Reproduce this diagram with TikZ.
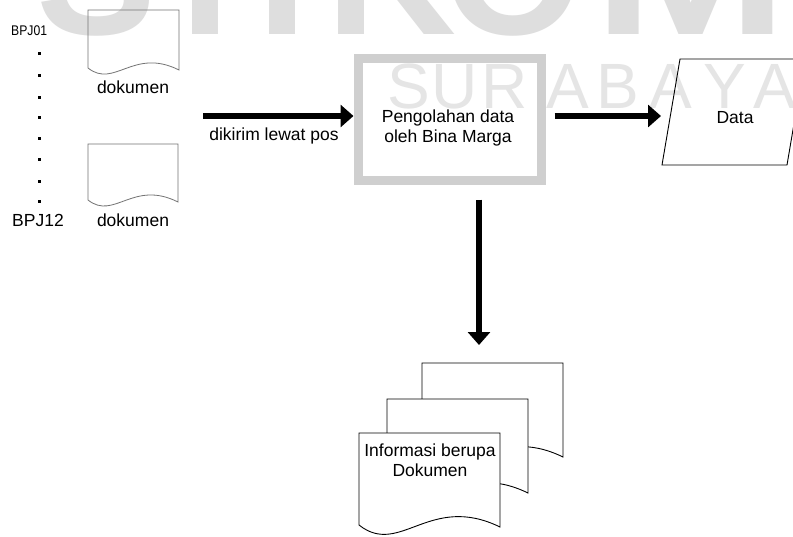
\documentclass[tikz,border=0pt]{standalone}
\usepackage{fontspec}
\setmainfont{Liberation Sans}
\usetikzlibrary{arrows.meta,calc}
\newcommand{\drawdoc}[2]{%
  \path[#2] let \p1=(#1.north west), \p2=(#1.south east), \p3=($(#1.south east)-(#1.south west)$) in
   (\x1,\y1) -- (\x2,\y1) -- (\x2,\y2-2pt)
   .. controls (\x1+0.5*\x3,\y2+0.23*\x3) and (\x1+0.29*\x3,\y2-0.23*\x3) .. (\x1,\y2) -- cycle;}
\begin{document}
\begin{tikzpicture}[x=1pt,y=-1pt,
  txt/.style={font=\fontsize{17.5}{19.5}\selectfont, inner sep=0pt, align=center, anchor=base},
  bigarrow/.style={line width=6.5pt, -{Triangle[length=13pt,width=22pt]}},
  docbox/.style={inner sep=0pt, outer sep=0pt},
  multidoc/.style={draw=black, line width=0.9pt, fill=white},
  srcdoc/.style={draw=black!55, line width=0.8pt},
  wmsmall/.style={text=black!10, inner sep=0pt, anchor=base, font=\fontsize{64}{64}\selectfont},
  wmbig/.style={text=black!13, inner sep=0pt, anchor=base, font=\fontsize{180}{180}\selectfont\bfseries},
]
\useasboundingbox (0,0) rectangle (793,536);
\clip (0,0) rectangle (793,536);
\fill[white] (0,0) rectangle (793,536);

% watermark
\node[wmbig] (wS) at (97,34) {S};
\node[wmbig] (wT) at (205,34) {T};
\node[wmbig] (wI) at (283,34) {I};
\node[wmbig] (wK) at (391,34) {K};
\node[wmbig] (wO) at (514,34) {O};
\node[wmbig] (wM) at (691,34) {\scalebox{1.3}[1]{M}};
\node[wmsmall] (s1) at (409,108) {S};
\node[wmsmall] (s2) at (455,108) {U};
\node[wmsmall] (s3) at (505,108) {R};
\node[wmsmall] (s4) at (568,108) {A};
\node[wmsmall] (s5) at (618,108) {B};
\node[wmsmall] (s6) at (671,108) {A};
\node[wmsmall] (s7) at (725,108) {Y};
\node[wmsmall] (s8) at (775,108) {A};

% source documents
\node[docbox, minimum width=91pt, minimum height=58pt] (doc1) at (133.5,39) {};
\drawdoc{doc1}{srcdoc}
\node[docbox, minimum width=90pt, minimum height=56pt] (doc2) at (133,172) {};
\drawdoc{doc2}{srcdoc}
\node[txt] (lab1) at (133,93) {dokumen};
\node[txt] (lab2) at (133,226) {dokumen};
\node[txt, anchor=base west, font=\fontsize{14}{16}\selectfont] (bpj01) at (11,35.5) {\scalebox{0.87}[1]{BPJ01}};
\node[txt, anchor=base west] (bpj12) at (12,226) {BPJ12};
\foreach \yy in {53,75,97,117,138,159,181,201}
  \fill[black] (37.5,\yy-1.5) rectangle +(3,3);

% process
\node[draw=black!19, line width=9pt, minimum width=183pt, minimum height=122pt, inner sep=0pt] (proc) at (449.5,119.5) {};
\node[txt] (proctext) at (448,142) {Pengolahan data\\oleh Bina Marga};

% data
\coordinate (d1) at (662,165);
\coordinate (d2) at (680,59);
\coordinate (d3) at (805,59);
\coordinate (d4) at (787,165);
\draw[black, line width=0.9pt] (d1) -- (d2) -- (d3) -- (d4) -- cycle;
\node[txt] (data) at (735,123) {Data};

% output documents
\node[docbox, minimum width=141pt, minimum height=92pt] (back) at (492.5,409) {};
\node[docbox, minimum width=141pt, minimum height=92pt] (mid) at (457.5,445) {};
\node[docbox, minimum width=141pt, minimum height=92pt] (front) at (429.5,479) {};
\drawdoc{back}{multidoc}
\drawdoc{mid}{multidoc}
\drawdoc{front}{multidoc}
\node[txt] (outtext) at (430,476) {Informasi berupa\\Dokumen};

% connectors
\coordinate (a1s) at (203,116);
\node[txt] (kirim) at (274,140) {dikirim lewat pos};
\draw[bigarrow] (a1s) -- (proc.west |- a1s);
\coordinate (a2e) at (661,116);
\draw[bigarrow, shorten <=9pt] (proc.east |- a2e) -- (a2e);
\coordinate (a3s) at (479,200);
\draw[bigarrow, shorten <=14.5pt, shorten >=18pt] (proc.south -| a3s) -- (back.north -| a3s);
\end{tikzpicture}
\end{document}
